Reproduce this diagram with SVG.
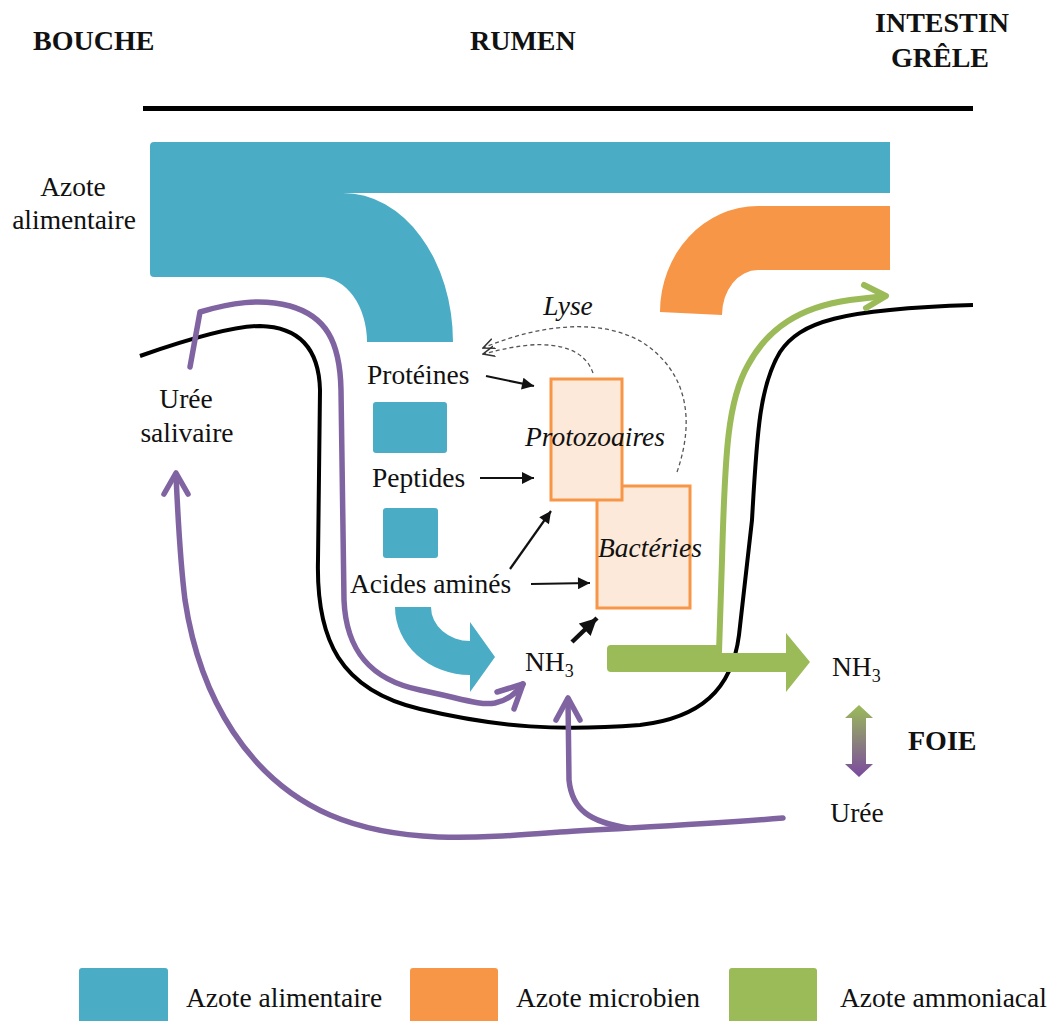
<svg xmlns="http://www.w3.org/2000/svg" width="1052" height="1021" viewBox="0 0 1052 1021">
<defs>
<style>
.t{font-family:"Liberation Serif","Times New Roman",serif;font-size:27.5px;fill:#111}
.h{font-family:"Liberation Serif","Times New Roman",serif;font-size:28px;font-weight:bold;fill:#111}
.i{font-style:italic}
.blue{fill:#4BACC6}
.orange{fill:#F79646}
.green{fill:#9BBB59}
.pur{fill:none;stroke:#8064A2;stroke-width:5.5;stroke-linecap:round;stroke-linejoin:round}
.blk{fill:none;stroke:#111;stroke-width:2.2}
.dash{fill:none;stroke:#555;stroke-width:1.3;stroke-dasharray:4 3}
.box{fill:#FDE9D9;stroke:#F79646;stroke-width:3}
</style>
<marker id="ah" viewBox="0 0 10 10" refX="10" refY="5" markerWidth="16" markerHeight="12" orient="auto" markerUnits="userSpaceOnUse">
<path d="M0,0 L10,5 L0,10 Z" fill="#111"/>
</marker>
<marker id="ahb" viewBox="0 0 10 10" refX="10" refY="5" markerWidth="18" markerHeight="17" orient="auto" markerUnits="userSpaceOnUse">
<path d="M0,0 L10,5 L0,10 Z" fill="#111"/>
</marker>
<marker id="ahd" viewBox="0 0 10 10" refX="9" refY="5" markerWidth="13" markerHeight="13" orient="auto" markerUnits="userSpaceOnUse">
<path d="M0,1 L9,5 L0,9" fill="none" stroke="#333" stroke-width="1.2"/>
</marker>
<linearGradient id="gp" x1="0" y1="0" x2="0" y2="1">
<stop offset="0" stop-color="#9BBB59"/>
<stop offset="1" stop-color="#7A4A9E"/>
</linearGradient>
</defs>
<rect width="1052" height="1021" fill="#fff"/>

<g id="titles">
<text class="h" x="33" y="50">BOUCHE</text>
<text class="h" x="470" y="50">RUMEN</text>
<text class="h" x="942" y="32" text-anchor="middle">INTESTIN</text>
<text class="h" x="940" y="67" text-anchor="middle">GRÊLE</text>
<rect x="143" y="106" width="830" height="5" fill="#000"/>
</g>

<g id="azote-alimentaire-flow">
<path class="blue" d="M150,146 Q150,142 154,142 H890 V193 H343 A110 149 0 0 1 453 342 H367 A47 65 0 0 0 320 277 H154 Q150,277 150,273 Z"/>
<text class="t" x="73" y="196" text-anchor="middle">Azote</text>
<text class="t" x="74" y="229" text-anchor="middle">alimentaire</text>
</g>

<g id="azote-microbien-flow">
<path class="orange" d="M890,206 V270 H758 A36 45 0 0 0 722 315 L660 312 A98 106 0 0 1 758 206 Z"/>
</g>

<g id="rumen-wall">
<path d="M140,356 C180,342 230,326 260,326 C300,327 319,350 320,390 L318,560 C316,640 340,690 420,709 C500,728 560,731 640,725 C700,718 732,690 739,635 L752,520 C757,430 760,385 780,352 C800,322 840,309 973,305" fill="none" stroke="#000" stroke-width="4"/>
</g>

<g id="uree-salivaire">
<text class="t" x="186" y="408" text-anchor="middle">Urée</text>
<text class="t" x="187" y="442" text-anchor="middle">salivaire</text>
</g>

<g id="proteines">
<text class="t" x="367" y="384">Protéines</text>
<rect class="blue" x="373" y="402" width="74" height="51" rx="3"/>
</g>
<g id="peptides">
<text class="t" x="372" y="487">Peptides</text>
<rect class="blue" x="383" y="508" width="55" height="50" rx="3"/>
</g>
<g id="acides-amines">
<text class="t" x="350" y="593">Acides aminés</text>
<path class="blue" d="M395,607 H431 A39 34 0 0 0 470 641 L470,622 L495,657 L470,692 L470,675 A75 68 0 0 1 395 607 Z"/>
</g>

<g id="nh3-rumen">
<text class="t" x="525" y="671">NH<tspan font-size="18" dy="6">3</tspan></text>
</g>

<g id="bacteries">
<rect class="box" x="597" y="486" width="93" height="122"/>
<text class="t i" x="650" y="557" text-anchor="middle">Bactéries</text>
</g>
<g id="protozoaires">
<rect class="box" x="551" y="379" width="71" height="121"/>
<text class="t i" x="595" y="446" text-anchor="middle">Protozoaires</text>
</g>

<g id="lyse">
<text class="t i" x="568" y="315" text-anchor="middle" font-size="22">Lyse</text>
</g>

<g id="nh3-sang">
<text class="t" x="832" y="676">NH<tspan font-size="18" dy="6">3</tspan></text>
</g>
<g id="foie">
<path d="M859,705 L873,718 L866,718 L866,764 L873,764 L859,777 L845,764 L852,764 L852,718 L845,718 Z" fill="url(#gp)"/>
<text class="h" x="908" y="750" font-size="25">FOIE</text>
</g>
<g id="uree">
<text class="t" x="857" y="822" text-anchor="middle">Urée</text>
</g>

<g id="connectors">
<line class="blk" x1="486" y1="376" x2="534" y2="386" marker-end="url(#ah)"/>
<line class="blk" x1="480" y1="478" x2="534" y2="478" marker-end="url(#ah)"/>
<line class="blk" x1="510" y1="569" x2="551" y2="511" marker-end="url(#ah)"/>
<line class="blk" x1="531" y1="584" x2="590" y2="583" marker-end="url(#ah)"/>
<line x1="572" y1="642" x2="597" y2="618" stroke="#111" stroke-width="4.5" marker-end="url(#ahb)"/>
<path class="dash" d="M593,373 C585,350 560,343 530,345 C510,347 495,351 483,354" marker-end="url(#ahd)"/>
<path class="dash" d="M677,472 C695,420 688,372 642,342 C600,318 540,324 483,348" marker-end="url(#ahd)"/>
<path class="green" d="M611,645 H718 V653 H786 V633 L810,662 L786,692 V672 H611 Q607,672 607,668 V649 Q607,645 611,645 Z"/>
<path d="M719,652 L722,560 C725,450 728,400 748,365 C768,328 800,307 850,300 L885,296" fill="none" stroke="#9BBB59" stroke-width="6" stroke-linecap="round"/>
<path d="M864,285 L886,296 L866,308" fill="none" stroke="#9BBB59" stroke-width="6" stroke-linecap="round" stroke-linejoin="round"/>
<path class="pur" d="M190,367 L200,312 C230,303 260,298 290,306 C325,316 340,340 341,390 L344,600 C346,650 370,680 420,690 C460,698 480,706 495,703 C508,700 515,694 523,684"/>
<path class="pur" d="M497,692 L523,684 L514,709"/>
<path class="pur" d="M783,818 C700,825 620,828 560,832 C480,838 400,845 330,815 C250,780 200,700 185,600 C180,560 178,520 176,475"/>
<path class="pur" d="M164,494 L176,473 L188,494"/>
<path class="pur" d="M628,828 C590,822 572,810 569,780 L568,699"/>
<path class="pur" d="M556,720 L568,698 L580,720"/>
</g>

<g id="legend">
<rect class="blue" x="79" y="968" width="89" height="60" rx="3"/>
<text class="t" x="186" y="1007">Azote alimentaire</text>
<rect class="orange" x="410" y="968" width="88" height="60" rx="3"/>
<text class="t" x="516" y="1007">Azote microbien</text>
<rect class="green" x="729" y="968" width="88" height="60" rx="3"/>
<text class="t" x="840" y="1007">Azote ammoniacal</text>
</g>
</svg>
